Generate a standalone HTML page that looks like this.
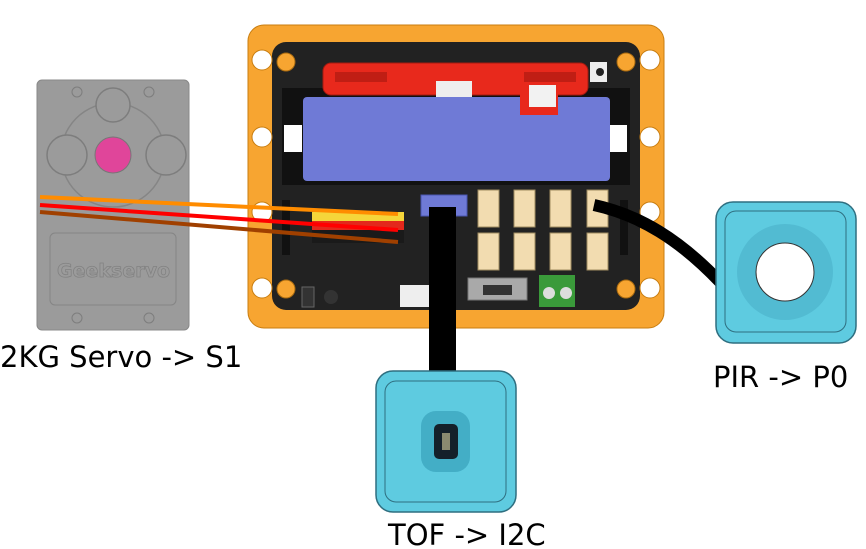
<!DOCTYPE html>
<html><head><style>
body{margin:0;background:#fff;width:866px;height:549px;overflow:hidden}
svg{display:block}
text{font-family:"DejaVu Sans","Liberation Sans",sans-serif;font-size:29px;fill:#000}
</style></head><body>
<svg width="866" height="549" viewBox="0 0 866 549" xmlns="http://www.w3.org/2000/svg">
<!-- servo -->
<rect x="37" y="80" width="152" height="250" rx="5" fill="#9b9b9b" stroke="#888"/>
<circle cx="113" cy="155" r="52" fill="none" stroke="#858585" stroke-width="1.5"/>
<circle cx="113" cy="105" r="17" fill="#9b9b9b" stroke="#7d7d7d" stroke-width="1.5"/>
<circle cx="67" cy="155" r="20" fill="#9b9b9b" stroke="#7d7d7d" stroke-width="1.5"/>
<circle cx="166" cy="155" r="20" fill="#9b9b9b" stroke="#7d7d7d" stroke-width="1.5"/>
<circle cx="113" cy="155" r="18" fill="#e0459a" stroke="#777"/>
<circle cx="77" cy="92" r="5" fill="none" stroke="#7d7d7d"/>
<circle cx="149" cy="92" r="5" fill="none" stroke="#7d7d7d"/>
<circle cx="77" cy="318" r="5" fill="none" stroke="#7d7d7d"/>
<circle cx="149" cy="318" r="5" fill="none" stroke="#7d7d7d"/>
<rect x="50" y="233" width="126" height="72" rx="5" fill="none" stroke="#858585"/>
<text x="57" y="277" style="font-size:19px;font-weight:bold;fill:#9b9b9b;stroke:#828282;stroke-width:.8">Geekservo</text>
<!-- board frame -->
<rect x="248" y="25" width="416" height="303" rx="16" fill="#f7a531" stroke="#c87d10"/>
<rect x="272" y="42" width="368" height="268" rx="14" fill="#222"/>
<g fill="#fff" stroke="#c87d10"><circle cx="262" cy="60" r="10"/><circle cx="262" cy="137" r="10"/><circle cx="262" cy="212" r="10"/><circle cx="262" cy="288" r="10"/><circle cx="650" cy="60" r="10"/><circle cx="650" cy="137" r="10"/><circle cx="650" cy="212" r="10"/><circle cx="650" cy="288" r="10"/></g>
<g fill="#f7a531" stroke="#a86a10"><circle cx="286" cy="62" r="9"/><circle cx="626" cy="62" r="9"/><circle cx="286" cy="289" r="9"/><circle cx="626" cy="289" r="9"/></g>
<!-- battery -->
<rect x="282" y="88" width="348" height="97" fill="#111"/>
<rect x="284" y="125" width="18" height="27" fill="#fff"/>
<rect x="609" y="125" width="18" height="27" fill="#fff"/>
<rect x="303" y="97" width="307" height="84" rx="4" fill="#6f7ad6"/>
<!-- red bar -->
<rect x="323" y="63" width="265" height="32" rx="8" fill="#e8291c" stroke="#a51a10"/>
<rect x="335" y="72" width="52" height="10" fill="#c01e14"/>
<rect x="524" y="72" width="52" height="10" fill="#c01e14"/>
<rect x="520" y="83" width="38" height="32" fill="#e8291c"/>
<rect x="529" y="85" width="27" height="22" fill="#f2f2f2"/>
<rect x="436" y="81" width="36" height="16" fill="#eee"/>
<rect x="590" y="62" width="17" height="20" fill="#eee"/>
<circle cx="600" cy="72" r="4" fill="#222"/>
<!-- headers -->
<rect x="312" y="212" width="92" height="9" fill="#f5d53a"/>
<rect x="312" y="221" width="92" height="9" fill="#e3281c"/>
<rect x="312" y="230" width="92" height="13" fill="#1a1a1a"/>
<rect x="282" y="200" width="8" height="55" fill="#111"/>
<rect x="620" y="200" width="8" height="55" fill="#111"/>
<!-- purple -->
<rect x="421" y="195" width="46" height="21" fill="#6f7ad6" stroke="#4a55b0"/>
<!-- JST ports -->
<g fill="#f2dcb0" stroke="#a08c60">
<rect x="478" y="190" width="21" height="37"/><rect x="514" y="190" width="21" height="37"/><rect x="550" y="190" width="21" height="37"/><rect x="587" y="190" width="21" height="37"/>
<rect x="478" y="233" width="21" height="37"/><rect x="514" y="233" width="21" height="37"/><rect x="550" y="233" width="21" height="37"/><rect x="587" y="233" width="21" height="37"/>
</g>
<rect x="468" y="278" width="59" height="22" fill="#a9a9a9" stroke="#777"/>
<rect x="483" y="285" width="29" height="10" fill="#333"/>
<rect x="539" y="275" width="36" height="32" fill="#3a9a3a"/>
<circle cx="549" cy="293" r="6" fill="#ddd"/><circle cx="566" cy="293" r="6" fill="#ddd"/>
<rect x="400" y="285" width="30" height="22" fill="#eee"/>
<rect x="302" y="287" width="12" height="20" fill="#333" stroke="#666"/>
<circle cx="331" cy="297" r="7" fill="#333"/>
<!-- wires -->
<line x1="40" y1="197" x2="398" y2="214" stroke="#ff8c00" stroke-width="4"/>
<line x1="40" y1="205" x2="398" y2="230" stroke="#ff0000" stroke-width="4"/>
<line x1="40" y1="212" x2="398" y2="242" stroke="#a04000" stroke-width="4"/>
<!-- cables -->
<rect x="429" y="207" width="27" height="168" fill="#000"/>
<path d="M594 205 C640 215 680 240 720 282" stroke="#000" stroke-width="12" fill="none"/>
<!-- TOF -->
<rect x="376" y="371" width="140" height="141" rx="17" fill="#5ecbe0" stroke="#2f6f80" stroke-width="1.5"/>
<rect x="385" y="381" width="121" height="121" rx="11" fill="none" stroke="#2f6f80"/>
<rect x="421" y="411" width="49" height="61" rx="15" fill="#43aec6"/>
<rect x="434" y="424" width="24" height="35" rx="5" fill="#14202a"/>
<rect x="442" y="433" width="8" height="17" fill="#8a8a70"/>
<!-- PIR -->
<rect x="716" y="202" width="140" height="141" rx="17" fill="#5ecbe0" stroke="#2f6f80" stroke-width="1.5"/>
<rect x="725" y="211" width="121" height="121" rx="11" fill="none" stroke="#2f6f80"/>
<circle cx="785" cy="272" r="48" fill="#52bbd2"/>
<circle cx="785" cy="272" r="29" fill="#fff" stroke="#333"/>
<!-- labels -->
<text x="0" y="367">2KG Servo -&gt; S1</text>
<text x="713" y="387">PIR -&gt; P0</text>
<text x="388" y="545">TOF -&gt; I2C</text>
</svg>
</body></html>
